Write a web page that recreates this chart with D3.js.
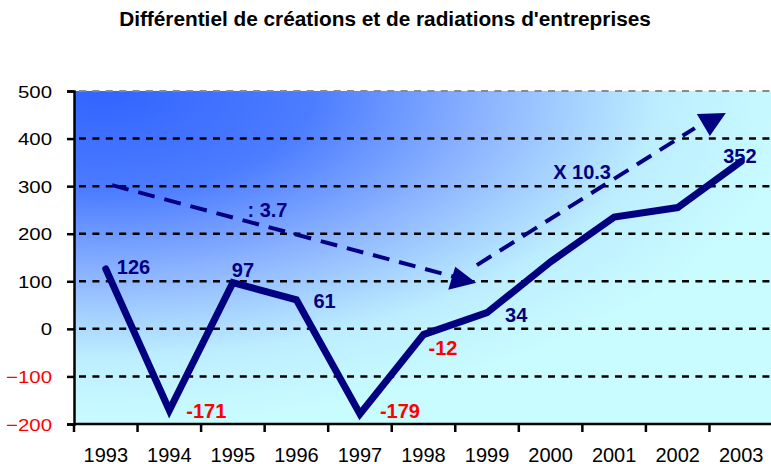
<!DOCTYPE html>
<html>
<head>
<meta charset="utf-8">
<script src="https://cdn.jsdelivr.net/npm/d3@7"></script>
<style>
  body { margin: 0; background: #fff; }
  text { font-family: "Liberation Sans", Arial, sans-serif; }
</style>
</head>
<body>
<svg width="771" height="464"></svg>
<script>
const years = ["1993","1994","1995","1996","1997","1998","1999","2000","2001","2002","2003"];
const values = [126, -171, 97, 61, -179, -12, 34, 141, 235, 255, 352];
const shownLabels = [126, -171, 97, 61, -179, -12, 34, null, null, null, 352];
const yTicks = [500, 400, 300, 200, 100, 0, -100, -200];
// trend arrows, [category index, value]
const arrowDown = [[0.1, 302], [5.83, 97]];
const arrowUp = [[5.84, 134], [9.27, 422]];
const arrowTexts = [": 3.7", "X 10.3"];
const arrowTextPos = [[2.23, 235], [7.04, 315]];

const svg = d3.select("svg");
const plotL = 74, plotR = 773, plotT = 91, plotB = 424;

const xScale = d3.scaleBand().domain(years).range([plotL, plotR]);
const xIdx = d3.scaleLinear().domain([-0.5, years.length - 0.5]).range([plotL, plotR]);
const yScale = d3.scaleLinear().domain([-200, 500]).range([plotB, plotT]);
const cx = (i) => xScale(years[i]) + xScale.bandwidth() / 2;

const defs = svg.append("defs");
const grad = defs.append("radialGradient")
  .attr("id", "bg")
  .attr("cx", 0.04).attr("cy", 0).attr("fx", 0.04).attr("fy", 0).attr("r", 1);
[[0, "#3264ff"], [0.3, "#4c7cff"], [0.55, "#8cb4ff"], [0.8, "#bdeeff"], [1, "#c8fcff"]]
  .forEach(s => grad.append("stop").attr("offset", s[0]).attr("stop-color", s[1]));

svg.append("rect")
  .attr("x", plotL).attr("y", plotT)
  .attr("width", plotR - plotL).attr("height", plotB - plotT)
  .attr("fill", "url(#bg)");

// grid
svg.append("g").selectAll("line")
  .data(yTicks.filter(t => t > -200))
  .enter().append("line")
  .attr("x1", plotL).attr("x2", plotR)
  .attr("y1", d => yScale(d)).attr("y2", d => yScale(d))
  .attr("stroke", d => d === 500 ? "#8a8a8a" : "#000")
  .attr("stroke-width", d => d === 500 ? 2 : 2.5)
  .attr("stroke-dasharray", "7,6.4")
  .attr("stroke-dashoffset", 8.4);

// y axis
const yAxis = svg.append("g")
  .attr("transform", `translate(${plotL},0)`)
  .call(d3.axisLeft(yScale).tickValues(yTicks).tickSize(7).tickPadding(0).tickFormat(d3.format("d")));
yAxis.select(".domain").attr("stroke", "#000").attr("stroke-width", 2.5);
yAxis.selectAll(".tick line").attr("stroke", "#000").attr("stroke-width", 2.5);
yAxis.selectAll(".tick text")
  .attr("x", null).attr("dy", null)
  .attr("font-size", 17)
  .attr("font-family", "Liberation Sans, Arial, sans-serif")
  .attr("fill", d => d < 0 ? "#ff0000" : "#000")
  .attr("transform", "translate(-22,6) scale(1.2,1)");

// x axis
svg.append("line")
  .attr("x1", plotL).attr("x2", plotR)
  .attr("y1", plotB).attr("y2", plotB)
  .attr("stroke", "#000").attr("stroke-width", 2.5);
svg.append("g").selectAll("line")
  .data(years.concat(["end"]))
  .enter().append("line")
  .attr("x1", (d, i) => i < years.length ? xScale(d) : plotR)
  .attr("x2", (d, i) => i < years.length ? xScale(d) : plotR)
  .attr("y1", plotB).attr("y2", plotB + 8)
  .attr("stroke", "#000").attr("stroke-width", 2.5);
svg.append("g").selectAll("text")
  .data(years)
  .enter().append("text")
  .attr("x", (d, i) => cx(i))
  .attr("y", 461.5)
  .attr("text-anchor", "middle")
  .attr("font-size", 20)
  .text(d => d);

// dashed trend arrows
const navy = "#000080";
function arrow(pts, head) {
  const p = pts.map(d => [xIdx(d[0]), yScale(d[1])]);
  svg.append("path")
    .attr("d", d3.line()(p))
    .attr("fill", "none").attr("stroke", navy)
    .attr("stroke-width", 4).attr("stroke-dasharray", "17,10");
  svg.append("path")
    .attr("d", d3.line()(head.map(h => [p[1][0] + h[0], p[1][1] + h[1]])) + "Z")
    .attr("fill", navy);
}
arrow(arrowDown, [[-21, -16], [0, 0], [-28, 7]]);
arrow(arrowUp, [[2, -14], [31, -15], [15, 8]]);

svg.append("g").selectAll("text")
  .data(arrowTexts)
  .enter().append("text")
  .attr("x", (d, i) => xIdx(arrowTextPos[i][0]))
  .attr("y", (d, i) => yScale(arrowTextPos[i][1]))
  .attr("font-size", 20).attr("font-weight", "bold").attr("fill", navy)
  .text(d => d);

// main line
svg.append("path")
  .datum(values)
  .attr("d", d3.line().x((d, i) => cx(i)).y(d => yScale(d)))
  .attr("fill", "none").attr("stroke", navy)
  .attr("stroke-width", 7)
  .attr("stroke-linecap", "round")
  .attr("stroke-linejoin", "miter");

// value labels
const labelOffsets = [[11, 5], [17, 8], [-1, -6], [17, 8], [20, 4], [5, 20], [18, 9], null, null, null, [-18, 2]];
svg.append("g").selectAll("text")
  .data(values.map((v, i) => ({ v, i, lab: shownLabels[i] })).filter(d => d.lab !== null))
  .enter().append("text")
  .attr("x", d => cx(d.i) + labelOffsets[d.i][0])
  .attr("y", d => yScale(d.v) + labelOffsets[d.i][1])
  .attr("font-size", 20).attr("font-weight", "bold")
  .attr("fill", d => d.lab < 0 ? "#ff0000" : navy)
  .text(d => d.lab);

// title
svg.append("text")
  .attr("transform", "translate(385,26) scale(1.04,1)")
  .attr("text-anchor", "middle")
  .attr("font-size", 20).attr("font-weight", "bold")
  .text("Différentiel de créations et de radiations d'entreprises");
</script>
</body>
</html>
